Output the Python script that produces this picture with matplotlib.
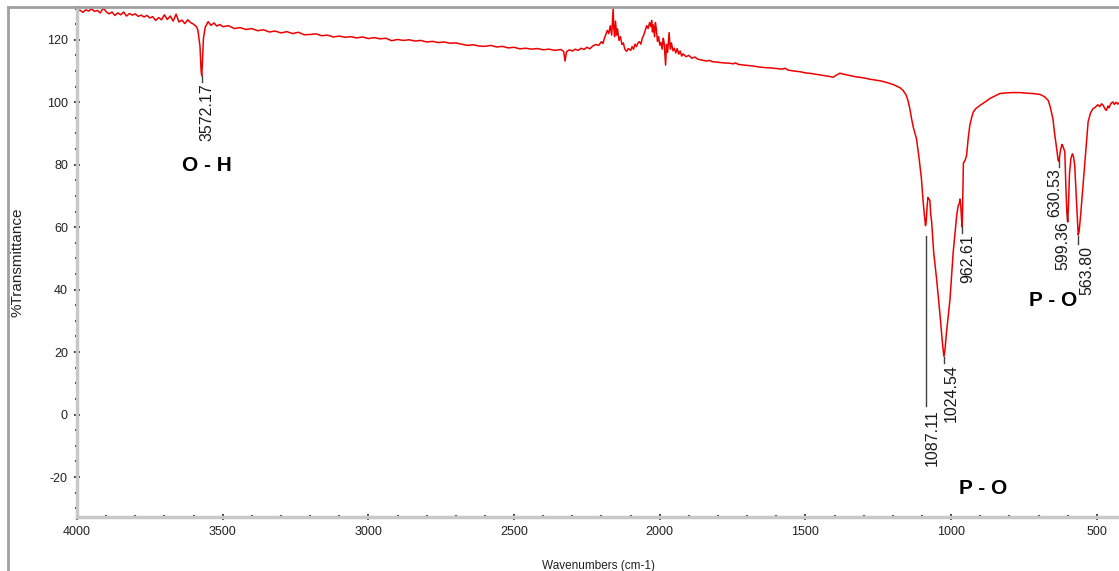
# FTIR spectrum (%Transmittance vs wavenumber) with peak labels
import matplotlib
matplotlib.use("Agg")
import matplotlib.pyplot as plt
from matplotlib.lines import Line2D
from matplotlib.ticker import MultipleLocator

plt.rcParams['font.family'] = ['Liberation Sans', 'DejaVu Sans']
plt.rcParams['axes.unicode_minus'] = False

# Spectrum: wavenumber (cm-1) and %T
wavenumber = [
    4000, 3990, 3980, 3970, 3960, 3950, 3940, 3930, 3920, 3910, 3900, 3890, 3880, 3870,
    3860, 3850, 3840, 3830, 3820, 3810, 3800, 3790, 3780, 3770, 3760, 3750, 3740, 3730,
    3720, 3710, 3700, 3690, 3680, 3670, 3660, 3650, 3640, 3630, 3620, 3610, 3600, 3590,
    3585, 3578, 3574, 3572, 3570, 3566, 3560, 3550, 3540, 3530, 3520, 3510, 3500, 3480,
    3460, 3440, 3420, 3400, 3380, 3360, 3340, 3320, 3300, 3280, 3260, 3240, 3220, 3200,
    3180, 3160, 3140, 3120, 3100, 3080, 3060, 3040, 3020, 3000, 2980, 2960, 2940, 2920,
    2900, 2880, 2860, 2840, 2820, 2800, 2780, 2760, 2740, 2720, 2700, 2680, 2660, 2640,
    2620, 2600, 2580, 2560, 2540, 2520, 2500, 2480, 2460, 2440, 2420, 2400, 2380, 2360,
    2340, 2330, 2325, 2320, 2310, 2300, 2290, 2280, 2270, 2260, 2250, 2240, 2230, 2220,
    2210, 2200, 2195, 2190, 2185, 2180, 2175, 2170, 2165, 2162, 2160, 2158, 2155, 2152,
    2148, 2145, 2140, 2135, 2130, 2125, 2120, 2114, 2108, 2100, 2095, 2090, 2085, 2080,
    2075, 2070, 2065, 2060, 2055, 2050, 2045, 2040, 2035, 2030, 2028, 2025, 2022, 2018,
    2015, 2012, 2008, 2004, 2000, 1996, 1992, 1988, 1985, 1980, 1977, 1973, 1968, 1964,
    1960, 1955, 1950, 1945, 1940, 1935, 1930, 1925, 1920, 1910, 1900, 1890, 1880, 1870,
    1860, 1850, 1840, 1830, 1820, 1810, 1800, 1780, 1760, 1748, 1740, 1730, 1700, 1680,
    1660, 1640, 1620, 1600, 1580, 1570, 1560, 1540, 1520, 1500, 1480, 1460, 1440, 1420,
    1405, 1395, 1382, 1370, 1350, 1330, 1300, 1280, 1260, 1240, 1220, 1200, 1185, 1175,
    1165, 1155, 1148, 1142, 1136, 1130, 1119, 1110, 1102, 1096, 1092, 1088, 1086, 1083,
    1080, 1076, 1073, 1070, 1067, 1060, 1050, 1039, 1030, 1025, 1022, 1016, 1010, 1004,
    998, 993, 987, 981, 976, 972, 970, 967, 964, 962, 960, 958, 952, 947,
    942, 936, 930, 924, 915, 901, 885, 867, 850, 833, 810, 790, 764, 740,
    720, 695, 680, 667, 660, 651, 645, 641, 636, 633, 630, 626, 620, 617,
    613, 610, 606, 603, 600, 597, 594, 589, 584, 580, 576, 572, 568, 564,
    561, 557, 553, 547, 541, 535, 530, 522, 513, 505, 497, 490, 484, 478,
    474, 470, 467, 462, 458, 452, 445, 440, 434, 428, 424,
]
transmittance = [
    129.0, 129.5, 128.8, 129.6, 129.2, 129.9, 129.1, 129.4, 128.6, 130.2, 129.0, 128.3, 128.9, 127.8,
    128.6, 128.0, 128.9, 127.6, 128.4, 127.9, 128.3, 127.5, 127.9, 127.3, 127.8, 127.0, 127.4, 126.2,
    127.1, 126.4, 128.0, 126.5, 127.6, 126.0, 128.2, 125.7, 126.3, 125.2, 126.4, 125.5, 125.0, 124.2,
    123.0, 118.0, 110.0, 108.5, 112.0, 120.5, 124.0, 125.8, 124.6, 125.4, 124.4, 124.9, 124.2, 124.5,
    123.6, 123.9, 123.3, 123.6, 122.9, 123.2, 122.5, 122.8, 122.2, 122.6, 122.0, 122.4, 121.6, 121.7,
    121.9, 121.3, 121.5, 120.9, 121.2, 120.8, 121.0, 120.6, 120.9, 120.4, 120.7, 120.3, 120.5, 119.7,
    120.1, 119.8, 120.0, 119.6, 119.8, 119.3, 119.5, 119.1, 119.3, 118.9, 119.0, 118.6, 118.2, 118.4,
    118.0, 117.9, 118.2, 117.7, 117.9, 117.4, 117.6, 117.1, 117.3, 117.0, 117.2, 116.8, 117.0, 116.6,
    116.9, 116.3, 113.2, 116.2, 116.8, 116.4, 117.0, 116.6, 117.3, 116.9, 117.6, 117.1, 118.0, 118.5,
    118.2, 119.4, 118.8, 120.5, 121.8, 123.0, 122.0, 124.5, 121.5, 127.0, 130.0, 124.0, 121.0, 126.0,
    121.5, 123.5, 119.8, 121.0, 118.5, 119.0, 117.0, 116.3, 117.2, 116.6, 117.8, 117.0, 118.6, 117.8,
    119.0, 119.4, 118.6, 120.5, 121.5, 123.0, 124.5, 123.6, 125.5, 124.2, 126.2, 122.5, 124.8, 121.0,
    125.5, 123.6, 119.5, 121.0, 118.3, 119.2, 117.0, 120.5, 119.0, 111.9, 118.5, 116.0, 122.3, 117.0,
    119.0, 116.5, 117.3, 115.8, 117.2, 115.4, 116.4, 114.8, 115.5, 114.6, 115.0, 114.1, 114.5, 113.8,
    113.6, 113.4, 113.2, 113.4, 113.0, 112.9, 112.8, 112.6, 112.5, 112.3, 112.6, 112.1, 111.8, 111.6,
    111.3, 111.1, 111.0, 110.8, 110.6, 110.9, 110.3, 110.0, 109.8, 109.4, 109.2, 108.9, 108.6, 108.3,
    108.0, 108.6, 109.3, 109.0, 108.6, 108.2, 107.8, 107.4, 107.1, 106.8, 106.3, 105.7, 105.1, 104.6,
    103.8, 102.4, 100.5, 98.0, 94.8, 92.0, 88.3, 82.0, 75.5, 68.0, 64.0, 60.5, 61.5, 66.0,
    69.5, 69.0, 68.5, 64.0, 61.7, 52.0, 43.4, 32.7, 23.0, 18.7, 20.0, 26.3, 31.5, 36.9,
    45.0, 52.0, 58.0, 63.7, 66.9, 67.5, 69.0, 66.9, 62.0, 60.0, 70.0, 80.5, 81.5, 83.0,
    88.0, 92.6, 95.0, 96.9, 98.0, 99.0, 100.0, 101.2, 102.0, 102.8, 103.0, 103.1, 103.1, 102.9,
    102.8, 102.5, 101.8, 100.6, 98.5, 94.8, 90.0, 87.3, 83.5, 81.5, 81.0, 84.0, 86.5, 86.0,
    85.0, 84.2, 72.0, 64.9, 61.7, 68.0, 77.0, 82.0, 83.5, 82.5, 79.8, 72.0, 64.9, 57.5,
    58.5, 62.5, 66.9, 74.0, 80.9, 88.0, 93.7, 96.5, 98.0, 98.4, 99.2, 98.6, 99.5, 99.0,
    98.2, 97.6, 97.4, 98.8, 98.2, 99.6, 100.1, 99.3, 100.0, 99.4, 99.8,
]

# Peak labels: text, wavenumber of tick, tick top, tick bottom, text x, text top
peak_labels = ["3572.17", "1087.11", "1024.54", "962.61", "630.53", "599.36", "563.80"]
peak_x = [3572, 1088, 1025, 962, 631, 601, 563]
peak_tick_top = [108.5, 57.2, 18.5, 60.0, 81.9, 65.2, 57.2]
peak_tick_bottom = [106.5, 2.9, 16.5, 58.0, 79.3, 62.0, 54.6]
peak_text_x = [3553, 1065, 1001, 942, 644, 616, 534]
peak_text_top = [106.0, 1.6, 16.1, 57.8, 79.0, 62.0, 54.0]

# Band assignments
band_labels = ["O - H", "P - O", "P - O"]
band_x = [3554, 891, 651]
band_y = [79.6, -23.7, 36.6]

W, H = 1119, 571
fig = plt.figure(figsize=(W / 100, H / 100), dpi=100)
ax = fig.add_axes([77 / W, 1 - 517 / H, 1 - 77 / W, (517 - 7) / H])

ax.plot(wavenumber, transmittance, color="#ee0000", lw=1.1)

for x, t, b in zip(peak_x, peak_tick_top, peak_tick_bottom):
    ax.plot([x, x], [t, b], color="#404040", lw=1)
for lab, x, y in zip(peak_labels, peak_text_x, peak_text_top):
    ax.text(x, y, lab, rotation=90, ha="center", va="top", fontsize=11.5, color="#1a1a1a")

for lab, x, y in zip(band_labels, band_x, band_y):
    ax.text(x, y, lab, ha="center", va="center", fontsize=15, fontweight="bold", color="black")

ax.set_xlim(4000, 424)
ax.set_ylim(-32.8, 130.5)
ax.xaxis.set_major_locator(MultipleLocator(500))
ax.xaxis.set_minor_locator(MultipleLocator(100))
ax.yaxis.set_major_locator(MultipleLocator(20))
ax.yaxis.set_minor_locator(MultipleLocator(5))

for s in ["top", "right"]:
    ax.spines[s].set_visible(False)
for s in ["left", "bottom"]:
    ax.spines[s].set_color("#c8c8c8")
    ax.spines[s].set_linewidth(2.5)

ax.tick_params(which="major", direction="inout", length=5, width=1.2, color="#222222",
               labelsize=9, labelcolor="#222222", pad=4)
ax.tick_params(which="minor", direction="inout", length=2.5, width=1.5, color="#333333")

ax.set_xlabel("Wavenumbers (cm-1)", fontsize=8.5, color="#222222", labelpad=16)
fig.text(18 / W, 1 - 262 / H, "%Transmittance", rotation=90, ha="center", va="center",
         fontsize=11, color="#222222")

# outer frame lines (left and top)
fig.add_artist(Line2D([8 / W, 8 / W], [0, 1 - 7 / H], transform=fig.transFigure,
                      color="#a0a0a0", lw=2))
fig.add_artist(Line2D([8 / W, 1], [1 - 7 / H, 1 - 7 / H], transform=fig.transFigure,
                      color="#a0a0a0", lw=2))

fig.savefig("out.png", dpi=100)
